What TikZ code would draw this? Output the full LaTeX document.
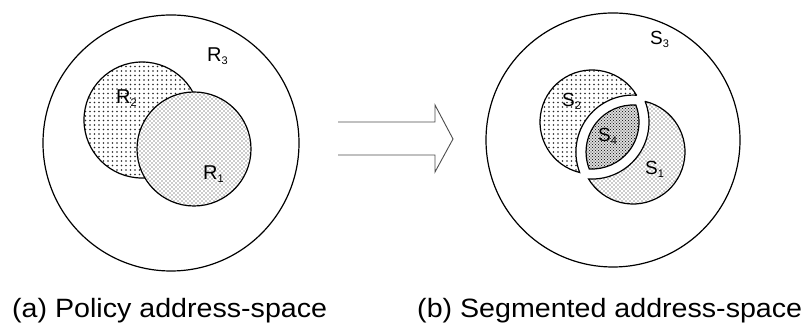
\documentclass[tikz,border=0pt]{standalone}
\usepackage{fontspec}
\setmainfont{Liberation Sans}
\usetikzlibrary{patterns.meta}
\tikzdeclarepattern{
  name=sparsedots, type=uncolored,
  bounding box={(-1pt,-1pt) and (5.5pt,5.5pt)},
  tile size={(4.5pt,4.5pt)},
  code={\pgfpathcircle{\pgfpointorigin}{0.85pt}\pgfusepath{fill}}
}
\tikzdeclarepattern{
  name=middots, type=uncolored,
  bounding box={(-1pt,-1pt) and (5pt,5pt)},
  tile size={(4pt,4pt)},
  code={\pgfpathcircle{\pgfpointorigin}{0.7pt}\pgfpathcircle{\pgfpoint{2pt}{2pt}}{0.7pt}\pgfusepath{fill}}
}
\tikzdeclarepattern{
  name=densedots, type=uncolored,
  bounding box={(-1pt,-1pt) and (4pt,4pt)},
  tile size={(3pt,3pt)},
  code={\pgfpathcircle{\pgfpointorigin}{0.65pt}\pgfpathcircle{\pgfpoint{1.5pt}{1.5pt}}{0.65pt}\pgfusepath{fill}}
}
\newcommand{\lsub}[1]{\raisebox{-3pt}{\fontsize{11}{11}\selectfont #1}}
\begin{document}
\begin{tikzpicture}[x=1pt,y=1pt,
  outer/.style={draw=black, line width=1.2pt},
  region/.style={draw=black, line width=1.2pt, preaction={fill=white}},
  lbl/.style={anchor=base west, inner sep=0pt, font=\fontsize{20}{20}\selectfont},
  lbls/.style={anchor=base west, inner sep=0pt, font=\fontsize{19}{19}\selectfont},
  captxt/.style={anchor=base west, inner sep=0pt, font=\fontsize{26.5}{26.5}\selectfont, xscale=1.08},
  arrowline/.style={draw=black!70, line width=0.9pt, line join=miter}
]
\useasboundingbox (0,0) rectangle (806,323);
% ---- left: policy address space
\coordinate (Lc) at (171,180);
\coordinate (R2c) at (142,203);
\coordinate (R1c) at (194,174);
\draw[outer] (Lc) circle (128);
\draw[region, pattern=sparsedots, pattern color=black!85] (R2c) circle (58);
\draw[region, pattern=middots, pattern color=black!85] (R1c) circle (57);
\node[lbl] (R3) at (207,261) {R\lsub{3}};
\node[lbl] (R2) at (116,219) {R\lsub{2}};
\node[lbl] (R1) at (203,143) {R\lsub{1}};
% ---- arrow
\coordinate (a1) at (338,201);
\coordinate (a2) at (435,201);
\coordinate (a3) at (435,218);
\coordinate (a4) at (453,184);
\coordinate (a5) at (435,151);
\coordinate (a6) at (435,168);
\coordinate (a7) at (338,168);
\draw[arrowline] (a1) -- (a2) -- (a3) -- (a4) -- (a5) -- (a6) -- (a7);
% ---- right: segmented address space
\coordinate (Rc) at (613,183);
\coordinate (A) at (592,201);
\coordinate (B) at (633,171);
\draw[outer] (Rc) circle (127);
% S2 region
\draw[region, pattern=sparsedots, pattern color=black!85]
  (A) ++(31.2:52) arc[start angle=31.2, end angle=256.3, radius=52]
  arc[start angle=-159.0, end angle=-273.5, radius=57] -- cycle;
% S1 region
\draw[region, pattern=middots, pattern color=black!85]
  (B) ++(76.3:52) arc[start angle=76.3, end angle=-148.8, radius=52]
  arc[start angle=-93.5, end angle=21.0, radius=57] -- cycle;
% S4 lens
\draw[region, preaction={fill=black!10}, pattern=densedots, pattern color=black!85]
  (A) ++(21.1:47) arc[start angle=21.1, end angle=-93.4, radius=47]
  arc[start angle=-158.9, end angle=-273.4, radius=47] -- cycle;
\node[lbls] (S3) at (650,278) {S\lsub{3}};
\node[lbls] (S2) at (562,216) {S\lsub{2}};
\node[lbls] (S4) at (598,181) {S\lsub{4}};
\node[lbls] (S1) at (645,148) {S\lsub{1}};
% ---- captions
\node[captxt] (capa) at (12,5) {(a) Policy address-space};
\node[captxt] (capb) at (417,5) {(b) Segmented address-space};
\end{tikzpicture}
\end{document}
